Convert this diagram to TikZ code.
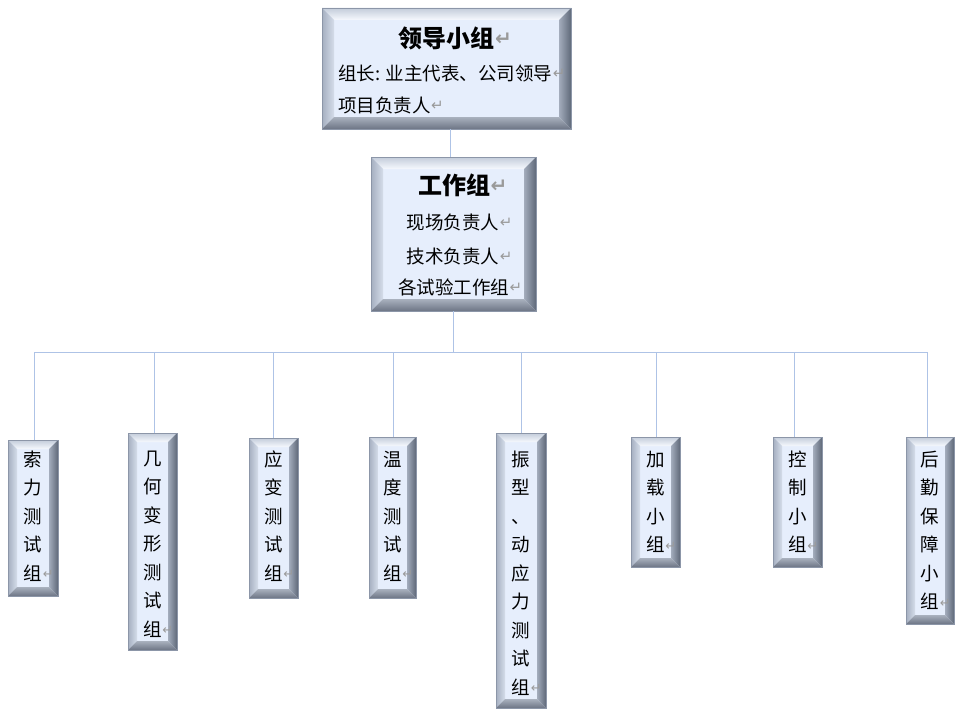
\documentclass[tikz,border=0pt]{standalone}
\usepackage{fontspec}
\newfontfamily\cjk{Noto Sans CJK SC}
\newfontfamily\symf{DejaVu Sans}
\usetikzlibrary{calc}
\definecolor{face}{HTML}{E6EEFC}
\definecolor{bvtopA}{HTML}{C3CCDA}
\definecolor{bvtopB}{HTML}{F6F9FE}
\definecolor{bvleftA}{HTML}{A5AFC0}
\definecolor{bvleftB}{HTML}{D5DDEA}
\definecolor{bvrightA}{HTML}{A3ACBC}
\definecolor{bvrightB}{HTML}{5F6979}
\definecolor{bvbotA}{HTML}{A9B1BE}
\definecolor{bvbotB}{HTML}{6D7585}
\definecolor{edge}{HTML}{8C96A8}
\definecolor{linec}{HTML}{AEC3E6}
\definecolor{retgray}{HTML}{9A9A9A}
\newcommand{\ret}[1][15]{\rlap{\kern0.5pt\raisebox{1.5pt}{\symf\fontsize{#1}{#1}\selectfont\color{retgray}↵}}}
\tikzset{
  bevel/.style={fill=face, draw=edge, line width=0.5pt, inner sep=0pt, outer sep=0pt,
    path picture={
      \coordinate (bnw) at (path picture bounding box.north west);
      \coordinate (bne) at (path picture bounding box.north east);
      \coordinate (bsw) at (path picture bounding box.south west);
      \coordinate (bse) at (path picture bounding box.south east);
      \shade[top color=bvtopA, bottom color=bvtopB] (bnw) -- (bne) -- ([shift={(-#1,-#1)}]bne) -- ([shift={(#1,-#1)}]bnw) -- cycle;
      \shade[left color=bvleftA, right color=bvleftB] (bnw) -- ([shift={(#1,-#1)}]bnw) -- ([shift={(#1,#1)}]bsw) -- (bsw) -- cycle;
      \shade[left color=bvrightA, right color=bvrightB] (bne) -- ([shift={(-#1,-#1)}]bne) -- ([shift={(-#1,#1)}]bse) -- (bse) -- cycle;
      \shade[top color=bvbotA, bottom color=bvbotB] (bsw) -- ([shift={(#1,#1)}]bsw) -- ([shift={(-#1,#1)}]bse) -- (bse) -- cycle;
    }},
  bevel/.default=9pt,
  txt/.style={inner sep=0pt, font=\cjk\fontsize{18.5}{18.5}\selectfont},
  ttl/.style={inner sep=0pt, font=\cjk\bfseries\fontsize{24}{24}\selectfont},
  vtxt/.style={inner sep=0pt, anchor=north, align=center, font=\cjk\fontsize{18.5}{28.5}\selectfont},
  conn/.style={draw=linec, line width=0.9pt},
}
\begin{document}
\begin{tikzpicture}[x=1pt, y=-1pt]
\useasboundingbox (0,0) rectangle (962,717);
% main boxes
\node[bevel=12pt, minimum width=249pt, minimum height=121pt] (lead) at (446.5,68.5) {};
\node[bevel=12pt, minimum width=165pt, minimum height=154pt] (work) at (453.5,234) {};
\node[ttl] (leadt) at (446.5,38) {领导小组\ret[20]};
\node[txt, anchor=west] (lead1) at (338,73) {组长: 业主代表、公司领导\ret};
\node[txt, anchor=west] (lead2) at (338,105) {项目负责人\ret};
\node[ttl] (workt) at (454,185) {工作组\ret[20]};
\node[txt] (work1) at (453,222) {现场负责人\ret};
\node[txt] (work2) at (453,256) {技术负责人\ret};
\node[txt] (work3) at (453.5,287) {各试验工作组\ret};
% groups
\node[bevel, minimum width=50pt, minimum height=156pt] (g1) at (33,518) {};
\node[bevel, minimum width=49pt, minimum height=217pt] (g2) at (152.5,541.5) {};
\node[bevel, minimum width=49pt, minimum height=160pt] (g3) at (273.5,518) {};
\node[bevel, minimum width=47pt, minimum height=161pt] (g4) at (392.5,517.5) {};
\node[bevel, minimum width=50pt, minimum height=275pt] (g5) at (521,570.5) {};
\node[bevel, minimum width=49pt, minimum height=130pt] (g6) at (655.5,502) {};
\node[bevel, minimum width=49pt, minimum height=130pt] (g7) at (797.5,502) {};
\node[bevel, minimum width=48pt, minimum height=187pt] (g8) at (930,530.5) {};
\node[vtxt] (t1) at (33,450.5) {索\\力\\测\\试\\组\ret[13]};
\node[vtxt] (t2) at (152.5,450.5) {几\\何\\变\\形\\测\\试\\组\ret[13]};
\node[vtxt] (t3) at (273.5,450.5) {应\\变\\测\\试\\组\ret[13]};
\node[vtxt] (t4) at (392.5,450.5) {温\\度\\测\\试\\组\ret[13]};
\node[vtxt] (t5) at (521,450.5) {振\\型\\、\\动\\应\\力\\测\\试\\组\ret[13]};
\node[vtxt] (t6) at (655.5,450.5) {加\\载\\小\\组\ret[13]};
\node[vtxt] (t7) at (797.5,450.5) {控\\制\\小\\组\ret[13]};
\node[vtxt] (t8) at (930,450.5) {后\\勤\\保\\障\\小\\组\ret[13]};
% connectors
\coordinate (bus) at (0,352);
\draw[conn] ([xshift=3.5pt]lead.south) -- ([xshift=-3.5pt]work.north);
\draw[conn] (work.south) -- (work.south |- bus);
\draw[conn] ([xshift=1pt]g1.north |- bus) -- ([xshift=-3pt]g8.north |- bus);
\foreach \i/\dx in {1/1,2/1.5,3/-0.5,4/0.5,5/0,6/0.5,7/-3.5,8/-3}{
  \draw[conn] ([xshift=\dx pt]g\i.north) -- ([xshift=\dx pt]g\i.north |- bus);
}
\end{tikzpicture}
\end{document}
